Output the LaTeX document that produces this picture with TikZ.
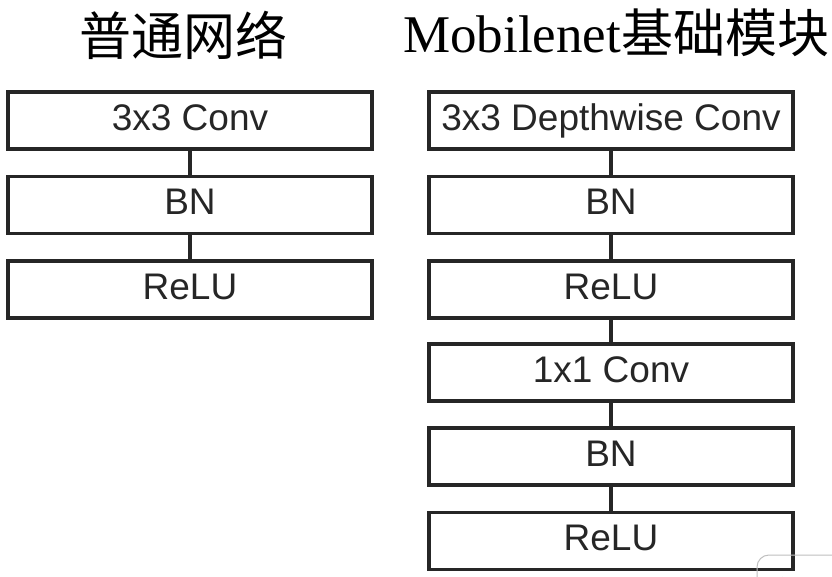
\documentclass[tikz,border=0pt]{standalone}
\usepackage{fontspec}
\setmainfont{Liberation Sans}
\newfontfamily\cjkfont{Noto Sans CJK SC}
\newfontfamily\timesfont{Liberation Serif}
\begin{document}
\begin{tikzpicture}[x=1pt,y=-1pt,
  blk/.style={draw=black!85, line width=3.4pt, fill=white, minimum width=364pt, minimum height=57pt,
    inner sep=0pt, text=black!85, font=\fontsize{37}{40}\selectfont, text height=26.5pt, text depth=7pt},
  link/.style={draw=black!85, line width=3.4pt},
  ttl/.style={anchor=base west, inner sep=0pt, text=black}]
\useasboundingbox (0,0) rectangle (832,577);
\fill[white] (0,0) rectangle (832,577);
% titles
\node[ttl] (t1) at (79,56) {\cjkfont\fontsize{52}{60}\selectfont 普通网络};
\node[ttl] (t2) at (403,53) {\fontsize{53}{60}\selectfont\timesfont Mobilenet\cjkfont\fontsize{52}{60}\selectfont 基础模块};
% left column
\node[blk] (l1) at (190,120.5) {3x3 Conv};
\node[blk] (l2) at (190,205) {BN};
\node[blk] (l3) at (190,289.5) {ReLU};
\draw[link] (l1.south) -- (l2.north);
\draw[link] (l2.south) -- (l3.north);
% right column
\node[blk] (r1) at (611,120.5) {3x3 Depthwise Conv};
\node[blk] (r2) at (611,205) {BN};
\node[blk] (r3) at (611,289.5) {ReLU};
\node[blk] (r4) at (611,372.5) {1x1 Conv};
\node[blk] (r5) at (611,456.5) {BN};
\node[blk] (r6) at (611,541) {ReLU};
\draw[link] (r1.south) -- (r2.north);
\draw[link] (r2.south) -- (r3.north);
\draw[link] (r3.south) -- (r4.north);
\draw[link] (r4.south) -- (r5.north);
\draw[link] (r5.south) -- (r6.north);
% faint watermark corner
\begin{scope}
\clip (0,0) rectangle (832,577);
\draw[black!25, line width=1pt, rounded corners=12pt] (757,600) -- (757,555) -- (850,555);
\draw[black!20, line width=1pt] (782,577) arc[start angle=180, end angle=90, radius=14];
\end{scope}
\end{tikzpicture}
\end{document}
